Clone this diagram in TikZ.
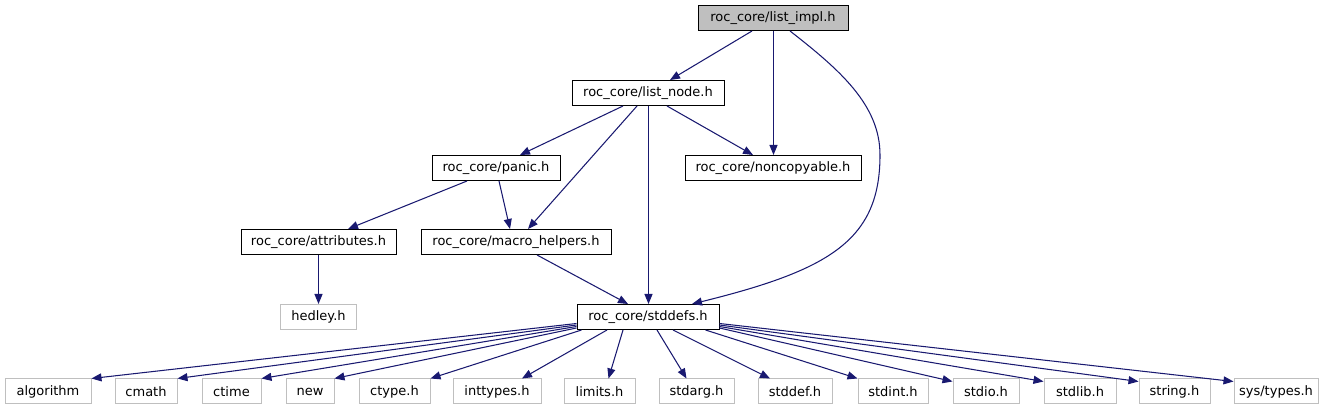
\documentclass[tikz,border=0pt]{standalone}
\usepackage{fontspec}
\setmainfont{DejaVu Sans}
\usetikzlibrary{arrows.meta}
\definecolor{edgeblue}{HTML}{191970}
\definecolor{grayfill}{HTML}{BFBFBF}
\begin{document}
\begin{tikzpicture}[x=1pt,y=-1pt,
  hbox/.style={draw=black, line width=1pt, minimum height=25pt, inner sep=0pt, font=\fontsize{13}{15}\selectfont, fill=white},
  extbox/.style={hbox, draw=grayfill},
  curbox/.style={hbox, fill=grayfill},
  dep/.style={draw=edgeblue, line width=1.05pt, -{Triangle[length=10pt,width=8pt]}}]
\useasboundingbox (0,0) rectangle (1336,411);
% header nodes
\node[curbox, minimum width=150pt] (li) at (773,18) {roc\_core/list\_impl.h};
\node[hbox, minimum width=152pt] (ln) at (648,93) {roc\_core/list\_node.h};
\node[hbox, minimum width=128pt] (pa) at (496,168) {roc\_core/panic.h};
\node[hbox, minimum width=176pt] (nc) at (773,168) {roc\_core/noncopyable.h};
\node[hbox, minimum width=155pt] (at) at (318.5,242) {roc\_core/attributes.h};
\node[hbox, minimum width=190pt] (mh) at (516,242) {roc\_core/macro\_helpers.h};
\node[extbox, minimum width=76pt] (he) at (318.5,317) {hedley.h};
\node[hbox, minimum width=142pt] (sd) at (648,317) {roc\_core/stddefs.h};
% bottom row
\node[extbox, minimum width=86pt] (algorithm) at (48,391.5) {algorithm};
\node[extbox, minimum width=62pt] (cmath) at (146,391.5) {cmath};
\node[extbox, minimum width=59pt] (ctime) at (231.5,391.5) {ctime};
\node[extbox, minimum width=48pt] (new) at (310,391.5) {new};
\node[extbox, minimum width=71pt] (ctype) at (394.5,391.5) {ctype.h};
\node[extbox, minimum width=88pt] (inttypes) at (497,391.5) {inttypes.h};
\node[extbox, minimum width=71pt] (limits) at (599.5,391.5) {limits.h};
\node[extbox, minimum width=75pt] (stdarg) at (696.5,391.5) {stdarg.h};
\node[extbox, minimum width=74pt] (stddef) at (795,391.5) {stddef.h};
\node[extbox, minimum width=70pt] (stdint) at (893,391.5) {stdint.h};
\node[extbox, minimum width=66pt] (stdio) at (986,391.5) {stdio.h};
\node[extbox, minimum width=72pt] (stdlib) at (1080,391.5) {stdlib.h};
\node[extbox, minimum width=71pt] (string) at (1174.5,391.5) {string.h};
\node[extbox, minimum width=84pt] (systypes) at (1276,391.5) {sys/types.h};
% upper edges
\draw[dep] ([xshift=-21pt]li.south) -- ([xshift=22pt]ln.north);
\draw[dep] ([xshift=0.5pt]li.south) -- ([xshift=0.5pt]nc.north);
\draw[dep] ([xshift=17pt]li.south) .. controls (840,70) and (880,105) .. (880,155)
  .. controls (880,240) and (830,270) .. ([xshift=44pt]sd.north);
\draw[dep] ([xshift=-25pt]ln.south) -- ([xshift=24pt]pa.north);
\draw[dep] ([xshift=-11pt]ln.south) -- ([xshift=12pt]mh.north);
\draw[dep] ([xshift=0.5pt]ln.south) -- ([xshift=0.5pt]sd.north);
\draw[dep] ([xshift=19pt]ln.south) -- ([xshift=-20pt]nc.north);
\draw[dep] ([xshift=-29pt]pa.south) -- ([xshift=29.5pt]at.north);
\draw[dep] ([xshift=3pt]pa.south) -- ([xshift=-6pt]mh.north);
\draw[dep] (at.south) -- (he.north);
\draw[dep] ([xshift=21pt]mh.south) -- ([xshift=-20pt]sd.north);
% stddefs fan-out
\draw[dep] ([yshift=-6.5pt]sd.west) -- (algorithm.north east);
\draw[dep] ([yshift=-8pt]sd.west) -- (cmath.north east);
\draw[dep] ([yshift=-9.5pt]sd.west) -- (ctime.north east);
\draw[dep] ([yshift=-11pt]sd.west) -- (new.north east);
\draw[dep] ([xshift=5pt]sd.south west) -- (ctype.north east);
\draw[dep] ([xshift=-41pt]sd.south) -- ([xshift=25pt]inttypes.north);
\draw[dep] ([xshift=-25pt]sd.south) -- ([xshift=9pt]limits.north);
\draw[dep] ([xshift=9pt]sd.south) -- ([xshift=-10pt]stdarg.north);
\draw[dep] ([xshift=25pt]sd.south) -- ([xshift=-25pt]stddef.north);
\draw[dep] ([xshift=-14pt]sd.south east) -- (stdint.north west);
\draw[dep] ([yshift=-11pt]sd.east) -- ([yshift=-3pt]stdio.north west);
\draw[dep] ([yshift=-9.5pt]sd.east) -- ([yshift=-3pt]stdlib.north west);
\draw[dep] ([yshift=-8pt]sd.east) -- ([yshift=-3pt]string.north west);
\draw[dep] ([yshift=-6.5pt]sd.east) -- ([yshift=-3pt]systypes.north west);
\end{tikzpicture}
\end{document}
